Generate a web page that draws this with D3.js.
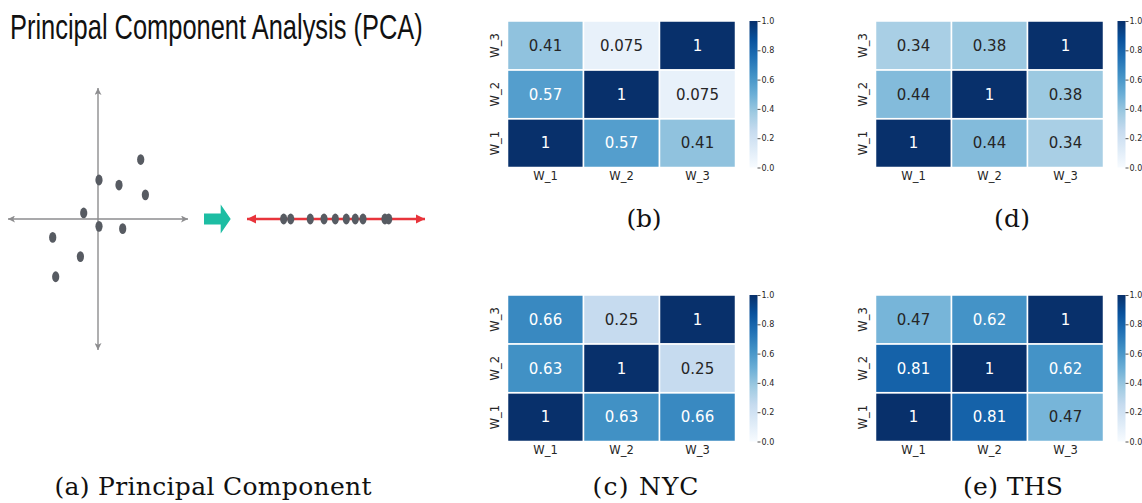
<!DOCTYPE html>
<html>
<head>
<meta charset="utf-8">
<script src="https://cdn.jsdelivr.net/npm/d3@7"></script>
<style>
  html, body { margin: 0; padding: 0; background: #fff; }
  svg { display: block; }
</style>
</head>
<body>
<script>
// 2-D sample cloud (centred) and its projection onto the first principal axis
const scatterX  = [4.27, 0.10, 2.10, 4.74, -1.43, 0.10, 2.47, -4.53, -1.76, -4.23];
const scatterY  = [5.90, 3.87, 3.37, 2.40, 0.60, -0.73, -0.96, -1.83, -3.73, -5.73];
const projected = [-5.29, -4.58, -2.60, -1.21, -0.07, 1.04, 1.95, 2.73, 4.95, 5.33];

// correlation heatmaps: pairwise values [W_1–W_2, W_1–W_3, W_2–W_3]
const variables = ["W_1", "W_2", "W_3"];
const corrB   = [0.57, 0.41, 0.075];
const corrD   = [0.44, 0.34, 0.38];
const corrNYC = [0.63, 0.66, 0.25];
const corrTHS = [0.81, 0.47, 0.62];
const colorbarTicks = [0, 0.2, 0.4, 0.6, 0.8, 1.0];

// colorbrewer "Blues" anchor colours (linear segments, as in matplotlib)
const bluesStops = ["#f7fbff", "#deebf7", "#c6dbef", "#9ecae1", "#6baed6",
                    "#4292c6", "#2171b5", "#08519c", "#08306b"];

const titleText = "Principal Component Analysis (PCA)";
const captionA = "(a) Principal Component";
const captionB = "(b)";
const captionC = "(c) NYC";
const captionD = "(d)";
const captionE = "(e) THS";

const W = 1142, H = 503;
const svg = d3.select("body").append("svg").attr("width", W).attr("height", H);
const defs = svg.append("defs");

const blues = d3.scaleLinear()
  .domain(bluesStops.map((_, i) => i / (bluesStops.length - 1)))
  .range(bluesStops)
  .interpolate(d3.interpolateRgb);

// text colour chosen from the cell's relative luminance
function relLum(c) {
  const rgb = d3.rgb(c);
  const lin = v => { v /= 255; return v <= 0.03928 ? v / 12.92 : Math.pow((v + 0.055) / 1.055, 2.4); };
  return 0.2126 * lin(rgb.r) + 0.7152 * lin(rgb.g) + 0.0722 * lin(rgb.b);
}
const fmt = d3.format(".2~g");

// ---------- panel (a): PCA sketch ----------
const gA = svg.append("g");
// condensed title: natural-width text squeezed horizontally to 413px
const title = gA.append("text")
  .attr("x", 0).attr("y", 0)
  .attr("font-family", "'Liberation Sans Narrow', 'Liberation Sans', Arial, sans-serif")
  .attr("font-size", 35)
  .attr("fill", "#111")
  .text(titleText);
const titleLen = title.node().getComputedTextLength();
title.attr("transform", `translate(10,38.5) scale(${413 / titleLen},1)`);

const sx = d3.scaleLinear().domain([-9, 9]).range([8, 188]);
const sy = d3.scaleLinear().domain([-13, 13]).range([350, 88]);

defs.append("marker")
  .attr("id", "grayHead").attr("viewBox", "0 0 10 10")
  .attr("refX", 10).attr("refY", 5)
  .attr("markerUnits", "userSpaceOnUse")
  .attr("markerWidth", 7).attr("markerHeight", 7)
  .attr("orient", "auto-start-reverse")
  .append("path").attr("d", "M0,0 L10,5 L0,10 L2.5,5 z").attr("fill", "#8d8d8f");

defs.append("marker")
  .attr("id", "redHead").attr("viewBox", "0 0 10 10")
  .attr("refX", 10).attr("refY", 5)
  .attr("markerUnits", "userSpaceOnUse")
  .attr("markerWidth", 9).attr("markerHeight", 10)
  .attr("orient", "auto-start-reverse")
  .append("path").attr("d", "M0,0 L10,5 L0,10 z").attr("fill", "#e8343b");

gA.append("line")
  .attr("x1", sx(-9)).attr("x2", sx(9)).attr("y1", sy(0)).attr("y2", sy(0))
  .attr("stroke", "#8d8d8f").attr("stroke-width", 1.4)
  .attr("marker-start", "url(#grayHead)").attr("marker-end", "url(#grayHead)");
gA.append("line")
  .attr("x1", sx(0)).attr("x2", sx(0)).attr("y1", sy(13)).attr("y2", sy(-13))
  .attr("stroke", "#8d8d8f").attr("stroke-width", 1.4)
  .attr("marker-start", "url(#grayHead)").attr("marker-end", "url(#grayHead)");

gA.selectAll("ellipse.pt").data(d3.range(scatterX.length)).join("ellipse")
  .attr("class", "pt")
  .attr("cx", i => sx(scatterX[i])).attr("cy", i => sy(scatterY[i]))
  .attr("rx", 3.6).attr("ry", 5.4)
  .attr("fill", "#575b62");

// block arrow pointing at the projection
const ay = sy(0);
const arrowPts = [[204, ay - 5.5], [220.7, ay - 5.5], [220.7, ay - 14.5], [230.7, ay],
                  [220.7, ay + 14.5], [220.7, ay + 5.5], [204, ay + 5.5]];
gA.append("path")
  .attr("d", d3.line()(arrowPts) + "Z")
  .attr("fill", "#1dbda3");

// first principal axis with projected samples
const px = d3.scaleLinear().domain([-9, 9]).range([247, 425]);
gA.append("line")
  .attr("x1", px(-9)).attr("x2", px(9)).attr("y1", ay).attr("y2", ay)
  .attr("stroke", "#e8343b").attr("stroke-width", 2.6)
  .attr("marker-start", "url(#redHead)").attr("marker-end", "url(#redHead)");
gA.selectAll("ellipse.proj").data(projected).join("ellipse")
  .attr("class", "proj")
  .attr("cx", d => px(d)).attr("cy", ay)
  .attr("rx", 3.6).attr("ry", 5.4)
  .attr("fill", "#575b62");

// ---------- colourbar gradient ----------
const grad = defs.append("linearGradient")
  .attr("id", "bluesGrad").attr("x1", 0).attr("y1", 1).attr("x2", 0).attr("y2", 0);
grad.selectAll("stop").data(bluesStops).join("stop")
  .attr("offset", (d, i) => i / (bluesStops.length - 1))
  .attr("stop-color", d => d);

// ---------- heatmap panels ----------
function heatmap(corr, x0, y0) {
  const w = 228, h = 146.5;
  const m = [[1, corr[0], corr[1]], [corr[0], 1, corr[2]], [corr[1], corr[2], 1]];
  const cells = [];
  variables.forEach((rv, i) => variables.forEach((cv, j) => cells.push({ rv, cv, v: m[i][j] })));

  const x = d3.scaleBand().domain(variables).range([x0, x0 + w]);
  const y = d3.scaleBand().domain(variables).range([y0 + h, y0]);
  const g = svg.append("g");

  g.selectAll("rect.cell").data(cells).join("rect")
    .attr("class", "cell")
    .attr("x", d => x(d.cv)).attr("y", d => y(d.rv))
    .attr("width", x.bandwidth()).attr("height", y.bandwidth())
    .attr("fill", d => blues(d.v))
    .attr("stroke", "#fff").attr("stroke-width", 1.5);

  g.selectAll("text.annot").data(cells).join("text")
    .attr("class", "annot")
    .attr("x", d => x(d.cv) + x.bandwidth() / 2)
    .attr("y", d => y(d.rv) + y.bandwidth() / 2)
    .attr("dy", "0.36em")
    .attr("text-anchor", "middle")
    .attr("font-family", "'DejaVu Sans', sans-serif")
    .attr("font-size", 15)
    .attr("fill", d => relLum(blues(d.v)) > 0.408 ? "#262626" : "#ffffff")
    .text(d => fmt(d.v));

  const xAxis = g.append("g")
    .attr("transform", `translate(0,${y0 + h})`)
    .call(d3.axisBottom(x).tickSize(0).tickPadding(4.5));
  xAxis.select(".domain").remove();
  xAxis.selectAll("text")
    .attr("font-family", "'DejaVu Sans', sans-serif")
    .attr("font-size", 11.5).attr("fill", "#262626");

  const yAxis = g.append("g")
    .attr("transform", `translate(${x0},0)`)
    .call(d3.axisLeft(y).tickSize(0));
  yAxis.select(".domain").remove();
  yAxis.selectAll("text")
    .attr("x", null).attr("dy", null)
    .attr("text-anchor", "middle")
    .attr("transform", "translate(-8.5,0) rotate(-90)")
    .attr("font-family", "'DejaVu Sans', sans-serif")
    .attr("font-size", 11.5).attr("fill", "#262626");

  // colourbar
  const cbx = x0 + w + 14, cbw = 8;
  g.append("rect")
    .attr("x", cbx).attr("y", y0).attr("width", cbw).attr("height", h)
    .attr("fill", "url(#bluesGrad)");
  const cs = d3.scaleLinear().domain([0, 1]).range([y0 + h, y0]);
  const cAxis = g.append("g")
    .attr("transform", `translate(${cbx + cbw},0)`)
    .call(d3.axisRight(cs).tickValues(colorbarTicks).tickFormat(d3.format(".1f"))
      .tickSize(3).tickPadding(1));
  cAxis.select(".domain").remove();
  cAxis.selectAll("line").attr("stroke", "#262626").attr("stroke-width", 0.8);
  cAxis.selectAll("text")
    .attr("font-family", "'DejaVu Sans', sans-serif")
    .attr("font-size", 8).attr("fill", "#262626");
}

heatmap(corrB, 507.5, 21);
heatmap(corrD, 875.5, 21);
heatmap(corrNYC, 507.5, 295);
heatmap(corrTHS, 875.5, 295);

// ---------- sub-figure captions ----------
const capData = [
  { t: captionA, x: 213,  y: 495, len: 317 },
  { t: captionB, x: 644,  y: 226.5, len: 35 },
  { t: captionC, x: 645.5, y: 495, len: 106 },
  { t: captionD, x: 1012, y: 226.5, len: 36 },
  { t: captionE, x: 1013, y: 495, len: 100 }
];
svg.selectAll("text.caption").data(capData).join("text")
  .attr("class", "caption")
  .attr("x", d => d.x).attr("y", d => d.y)
  .attr("text-anchor", "middle")
  .attr("font-family", "'DejaVu Serif', 'Liberation Serif', serif")
  .attr("font-size", 25)
  .attr("fill", "#111")
  .attr("textLength", d => d.len)
  .attr("lengthAdjust", "spacing")
  .text(d => d.t);
</script>
</body>
</html>
